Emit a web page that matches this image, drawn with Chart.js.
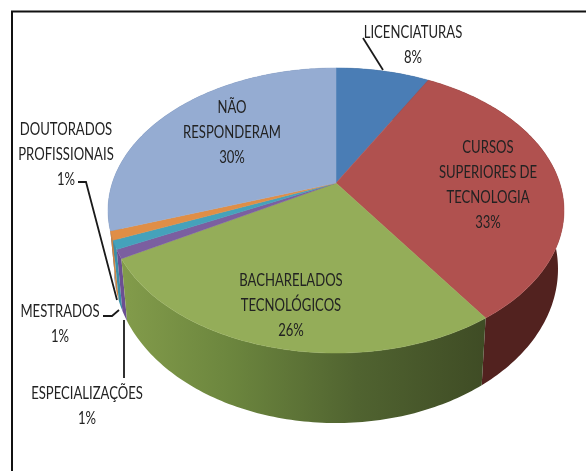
<!DOCTYPE html>
<html>
<head>
<meta charset="utf-8">
<style>
    html, body { margin: 0; padding: 0; background: #fff; }
    canvas { display: block; }
</style>
<script src="https://cdn.jsdelivr.net/npm/chart.js@4"></script>
</head>
<body>
<canvas id="myChart" width="586" height="471"></canvas>
<script>
// data
const categories = ['LICENCIATURAS', 'CURSOS SUPERIORES DE TECNOLOGIA', 'BACHARELADOS TECNOLÓGICOS',
    'ESPECIALIZAÇÕES', 'MESTRADOS', 'DOUTORADOS PROFISSIONAIS', 'NÃO RESPONDERAM'];
const values = [8.0, 32.5, 26.2, 1.0, 1.0, 1.0, 30.3];
const labelLines = [
    ['LICENCIATURAS'],
    ['CURSOS', 'SUPERIORES DE', 'TECNOLOGIA'],
    ['BACHARELADOS', 'TECNOLÓGICOS'],
    ['ESPECIALIZAÇÕES'],
    ['MESTRADOS'],
    ['DOUTORADOS', 'PROFISSIONAIS'],
    ['NÃO', 'RESPONDERAM']
];

// styles
const topColors = ['#4a7db5', '#b0514f', '#94ad59', '#7b5fa0', '#45a2bb', '#e08e46', '#95acd2'];
const sideColors = ['#2c4a6d', '#52221f', '#5e7336', '#6b4f92', '#3c8fa6', '#cc8544', '#5c6f92'];

// where each label block sits: center x, first line y, line step
const labelPos = [
    [413, 33, 24.5],
    [488, 148, 24.7],
    [291, 281, 25],
    [87, 394, 25],
    [60, 312, 25],
    [66, 130, 25],
    [232, 108, 25]
];
const leaders = [
    [[363, 38], [383, 70]],
    [[78, 182], [86, 182], [117, 300]],
    [[103, 316], [112, 316], [119, 310]],
    [[124, 320], [124, 378]]
];

// perspective of the top face: circle of unit radius -> screen
function topPoint(phi) {
    let u = Math.sin(phi);
    let v = -Math.cos(phi);
    let den = 1 - 0.193 * v;
    return [336 + 223.7 * u / den, (101.9 * v + 183) / den];
}

// rim of the lower face, same place on a slightly different ellipse
function lowPoint(p) {
    let u = (p[0] - 336) / 228;
    let v = (p[1] - 210.5) / 142.5;
    return [336 + 222 * u, 269 + 154 * v];
}

function sliceRim(el) {
    let pts = [];
    let a0 = el.startAngle + Math.PI / 2;
    let a1 = el.endAngle + Math.PI / 2;
    let steps = Math.max(2, Math.ceil((a1 - a0) * 60));
    for (let i = 0; i <= steps; i++) {
        pts.push(topPoint(a0 + (a1 - a0) * i / steps));
    }
    return pts;
}

function poly(ctx, pts) {
    ctx.beginPath();
    pts.forEach((p, i) => i ? ctx.lineTo(p[0], p[1]) : ctx.moveTo(p[0], p[1]));
    ctx.closePath();
}

const pie3d = {
    id: 'pie3d',
    beforeDatasetsDraw(chart) {
        const ctx = chart.ctx;
        const arcs = chart.getDatasetMeta(0).data;

        let order = arcs.map((el, i) => {
            let rim = sliceRim(el);
            let mid = rim[Math.floor(rim.length / 2)];
            return { i: i, rim: rim, midY: mid[1] };
        }).sort((a, b) => a.midY - b.midY);

        let green = ctx.createLinearGradient(120, 0, 485, 0);
        green.addColorStop(0, '#839c4b');
        green.addColorStop(0.3, '#6c863e');
        green.addColorStop(0.65, '#506330');
        green.addColorStop(1, '#3f4c25');

        order.forEach(s => {
            let low = s.rim.map(lowPoint).reverse();
            poly(ctx, s.rim.concat(low));
            ctx.fillStyle = s.i === 2 ? green : sideColors[s.i];
            ctx.fill();
        });

        arcs.forEach((el, i) => {
            poly(ctx, [[336, 183]].concat(sliceRim(el)));
            ctx.fillStyle = topColors[i];
            ctx.strokeStyle = topColors[i];
            ctx.lineWidth = 0.5;
            ctx.fill();
            ctx.stroke();
        });
        return false;
    },
    afterDraw(chart) {
        const ctx = chart.ctx;
        ctx.save();

        // frame, only top and left
        ctx.strokeStyle = '#111';
        ctx.lineWidth = 2;
        ctx.beginPath();
        ctx.moveTo(12, 471);
        ctx.lineTo(12, 11.5);
        ctx.lineTo(586, 11.5);
        ctx.stroke();

        ctx.lineWidth = 1.8;
        ctx.strokeStyle = '#1a1a1a';
        leaders.forEach(line => {
            ctx.beginPath();
            line.forEach((p, i) => i ? ctx.lineTo(p[0], p[1]) : ctx.moveTo(p[0], p[1]));
            ctx.stroke();
        });

        ctx.filter = 'blur(0.4px)';
        ctx.font = '17px Lato';
        ctx.fillStyle = '#222';
        ctx.textAlign = 'center';
        ctx.textBaseline = 'middle';
        labelLines.forEach((lines, i) => {
            let pos = labelPos[i];
            let all = lines.concat(Math.round(values[i]) + '%');
            all.forEach((txt, k) => {
                ctx.save();
                ctx.translate(pos[0], pos[1] + k * pos[2]);
                ctx.scale(0.77, 1);
                ctx.fillText(txt, 0, 0);
                ctx.restore();
            });
        });
        ctx.restore();
    }
};

let chart = new Chart(document.getElementById('myChart'), {
    type: 'pie',
    data: {
        labels: categories,
        datasets: [{
            data: values,
            backgroundColor: topColors,
            borderWidth: 0
        }]
    },
    options: {
        responsive: false,
        animation: false,
        plugins: {
            legend: { display: false },
            tooltip: { enabled: false }
        }
    },
    plugins: [pie3d]
});
</script>
</body>
</html>
